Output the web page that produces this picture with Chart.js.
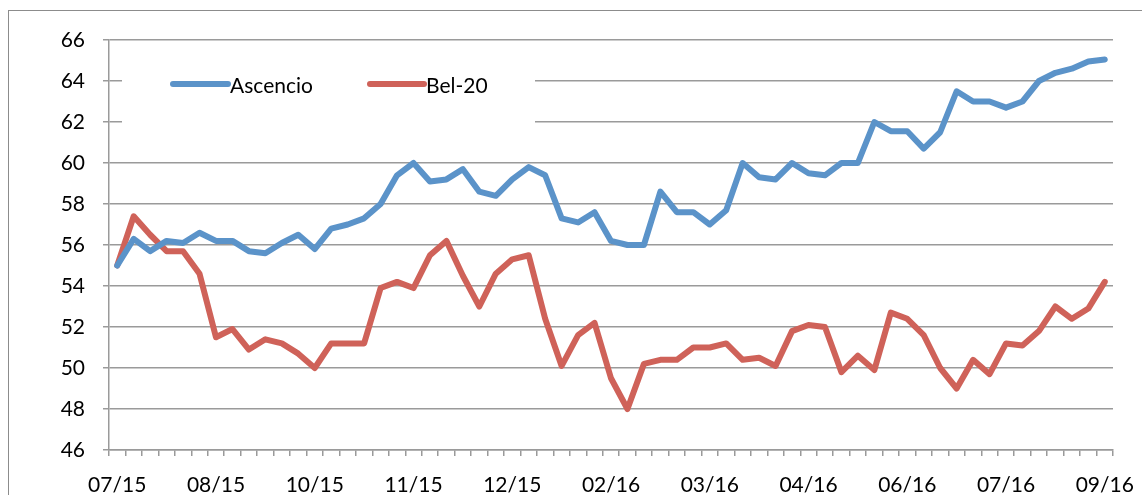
<!DOCTYPE html>
<html>
<head>
<meta charset="utf-8">
<script src="https://cdn.jsdelivr.net/npm/chart.js@4"></script>
<style>
  html, body { margin: 0; padding: 0; background: #fff; overflow: hidden; }
  #wrap { position: relative; width: 1142px; height: 495px; }
  #frame { position: absolute; left: 8px; top: 10px; width: 1200px; height: 600px; border: 1.5px solid #8c8c8c; }
  canvas { position: absolute; left: 0; top: 0; }
</style>
</head>
<body>
<div id="wrap">
  <div id="frame"></div>
  <canvas id="lineChart" width="1142" height="495"></canvas>
</div>
<script>
const tickLabels = ['07/15', '08/15', '10/15', '11/15', '12/15', '02/16', '03/16', '04/16', '06/16', '07/16', '09/16'];
const seriesNames = ['Ascencio', 'Bel-20'];

const ascencio = [55.0, 56.3, 55.7, 56.2, 56.1, 56.6, 56.2, 56.2, 55.7, 55.6,
  56.1, 56.5, 55.8, 56.8, 57.0, 57.3, 58.0, 59.4, 60.0, 59.1,
  59.2, 59.7, 58.6, 58.4, 59.2, 59.8, 59.4, 57.3, 57.1, 57.6,
  56.2, 56.0, 56.0, 58.6, 57.6, 57.6, 57.0, 57.7, 60.0, 59.3,
  59.2, 60.0, 59.5, 59.4, 60.0, 60.0, 62.0, 61.55, 61.55, 60.7,
  61.5, 63.5, 63.0, 63.0, 62.7, 63.0, 64.0, 64.4, 64.6, 64.95,
  65.05];

const bel20 = [55.0, 57.4, 56.5, 55.7, 55.7, 54.6, 51.5, 51.9, 50.9, 51.4,
  51.2, 50.7, 50.0, 51.2, 51.2, 51.2, 53.9, 54.2, 53.9, 55.5,
  56.2, 54.5, 53.0, 54.6, 55.3, 55.5, 52.4, 50.1, 51.6, 52.2,
  49.5, 48.0, 50.2, 50.4, 50.4, 51.0, 51.0, 51.2, 50.4, 50.5,
  50.1, 51.8, 52.1, 52.0, 49.8, 50.6, 49.9, 52.7, 52.4, 51.6,
  50.0, 49.0, 50.4, 49.7, 51.2, 51.1, 51.8, 53.0, 52.4, 52.9,
  54.2];

// one category per week, a label every 6th week
const weeks = ascencio.map((_, i) => (i % 6 === 0 ? tickLabels[i / 6] : ''));

const FONT = 'Lato, "Open Sans", sans-serif';
const gridGrey = '#9a9a9a';

// legend sits inside the plot on a white box, like the original
const insideLegend = {
  id: 'insideLegend',
  beforeDatasetsDraw(chart) {
    const ctx = chart.ctx;
    ctx.save();
    ctx.fillStyle = '#fff';
    ctx.fillRect(122, 52, 413, 84);
    const items = [{ x: 173, w: 55 }, { x: 370, w: 54 }];
    chart.data.datasets.forEach((ds, i) => {
      const it = items[i];
      ctx.strokeStyle = ds.borderColor;
      ctx.lineWidth = 6;
      ctx.lineCap = 'round';
      ctx.beginPath();
      ctx.moveTo(it.x, 84);
      ctx.lineTo(it.x + it.w, 84);
      ctx.stroke();
      ctx.fillStyle = '#000';
      ctx.font = '21px ' + FONT;
      ctx.textBaseline = 'middle';
      ctx.textAlign = 'left';
      ctx.fillText(ds.label, it.x + it.w + 2, 86);
    });
    ctx.restore();
  }
};

new Chart(document.getElementById('lineChart').getContext('2d'), {
  type: 'line',
  data: {
    labels: weeks,
    datasets: [{
      label: seriesNames[0],
      data: ascencio,
      borderColor: '#5b93c9',
      borderWidth: 6,
      pointRadius: 0,
      tension: 0,
      borderCapStyle: 'round',
      borderJoinStyle: 'round'
    }, {
      label: seriesNames[1],
      data: bel20,
      borderColor: '#cf6259',
      borderWidth: 6,
      pointRadius: 0,
      tension: 0,
      borderCapStyle: 'round',
      borderJoinStyle: 'round'
    }]
  },
  options: {
    responsive: false,
    animation: false,
    layout: { padding: { left: 0, right: 29, top: 40, bottom: 0 } },
    plugins: {
      legend: { display: false },
      tooltip: { enabled: false }
    },
    scales: {
      x: {
        offset: true,
        grid: {
          offset: true,
          drawOnChartArea: false,
          drawTicks: true,
          tickLength: 6,
          color: gridGrey,
          lineWidth: 1.5
        },
        border: { color: gridGrey, width: 1.5 },
        ticks: {
          autoSkip: false,
          maxRotation: 0,
          padding: 17,
          color: '#000',
          font: { family: FONT, size: 21 }
        },
        afterFit(scale) {
          scale.height = 45;
          scale.paddingLeft = 0;
          scale.paddingRight = 0;
        }
      },
      y: {
        min: 46,
        max: 66,
        grid: {
          color: gridGrey,
          lineWidth: 1.5,
          tickLength: 6
        },
        border: { color: gridGrey, width: 1.5 },
        ticks: {
          stepSize: 2,
          padding: 18,
          color: '#000',
          font: { family: FONT, size: 21 }
        },
        afterFit(scale) { scale.width = 109; }
      }
    }
  },
  plugins: [insideLegend]
});
</script>
</body>
</html>
